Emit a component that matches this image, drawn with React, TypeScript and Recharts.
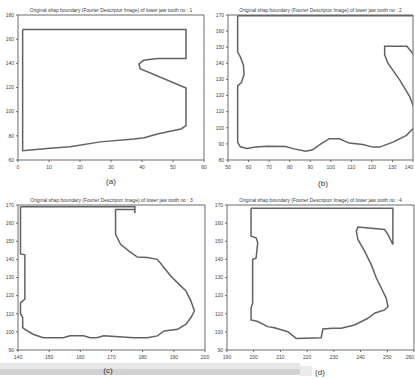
import React from "react";
import { LineChart, Line, XAxis, YAxis } from "recharts";

// Boundary points (x, y in axis units)
const toothA_x = [1.5, 54.2, 54.2, 45, 40.5, 39, 39.4, 54.2, 54.2, 52.6, 48.3, 45, 40.7, 37.4, 26.6, 16.8, 10.3, 1.5, 1.5];
const toothA_y = [168, 168, 144, 144, 142.5, 139.5, 135.5, 119.5, 88.5, 85.7, 83.4, 81.5, 78.5, 77.4, 75, 71, 69.7, 67.7, 168];

const toothB_x = [54.7, 54.7, 56, 57.5, 57.8, 56.5, 54.7, 54.7, 56, 59.3, 63.4, 69.1, 78, 82.1, 87.8, 91.1, 95.2, 99.3, 104.2, 109, 115.6, 120.5, 123.7, 130.3, 136.8, 140, 142, 141, 138.4, 133.5, 127.8, 126.2, 126.2, 137, 140, 142, 142, 54.7];
const toothB_y = [169.5, 147, 144, 139, 133, 128, 126, 91, 88.2, 87.1, 88, 88.6, 88.4, 86.9, 85.4, 86.3, 90, 93.2, 93.2, 90.5, 89.6, 88, 88, 91.1, 95.3, 99.4, 105, 111, 119.3, 129.7, 140.1, 145.4, 150.6, 150.6, 146, 150, 169.5, 169.5];

const toothC_x = [140.8, 177.5, 177.5, 177.5, 171.3, 171.3, 172.9, 175.6, 178.3, 181.5, 184.7, 186.9, 189, 191.7, 193.9, 195.5, 196.6, 195.5, 193.9, 191.2, 186.9, 184.7, 181.5, 177.2, 167.5, 165.3, 163.2, 161, 156.7, 154.5, 148.1, 144.8, 142.2, 141.5, 141.5, 140.8, 140.8, 142.2, 142.2, 140.8, 140.8];
const toothC_y = [169, 169, 165.5, 167.5, 167.5, 153.8, 148.3, 144.6, 141.3, 141, 140, 135.4, 130.8, 126.2, 122.6, 117, 111.5, 107.9, 104.2, 101.4, 100.5, 97.8, 96.8, 96.8, 97.8, 96.8, 96.8, 97.8, 97.8, 96.8, 96.8, 98.7, 101.4, 102.4, 108, 110, 116, 118, 142.5, 143, 169];

const toothD_x = [199, 252.1, 252.1, 250.25, 249, 239, 238.4, 239, 241.5, 244, 245.9, 247.75, 249.6, 250.25, 249, 245.25, 242.75, 237.75, 232.75, 229.6, 225.9, 225.25, 215.9, 212.75, 207.75, 205.25, 201.5, 199, 199, 199.6, 199.6, 200.9, 201.5, 200.9, 199, 199];
const toothD_y = [168.2, 168.2, 148.2, 153.7, 156.5, 157.8, 155.6, 151, 144.5, 137.1, 129.7, 124.2, 118.6, 114, 112.1, 110.3, 107.5, 103.8, 102, 102, 101.6, 96.8, 96.4, 100.1, 102.3, 102.9, 105.7, 106.6, 113.1, 115.8, 139.9, 140.8, 149.1, 151.9, 152.8, 168.2];

// Axis ticks
const ticksAX = [0, 10, 20, 30, 40, 50, 60];
const ticksAY = [60, 80, 100, 120, 140, 160, 180];
const ticksBX = [50, 60, 70, 80, 90, 100, 110, 120, 130, 140];
const ticksBY = [80, 90, 100, 110, 120, 130, 140, 150, 160, 170];
const ticksCX = [140, 150, 160, 170, 180, 190, 200];
const ticksDX = [190, 200, 210, 220, 230, 240, 250, 260];
const ticksCDY = [90, 100, 110, 120, 130, 140, 150, 160, 170];

const titleText = "Original shap boundary (Fourier Descriptor Image) of lower jaw tooth no : ";

const zip = (xs: number[], ys: number[]) => xs.map((x, i) => ({ x, y: ys[i] }));

interface PanelProps {
  title: string;
  xs: number[];
  ys: number[];
  xTicks: number[];
  yTicks: number[];
  left: number;
  top: number;
  yAxisWidth: number;
  marginRight: number;
}

const AXIS = "#6a6a6a";
const LINE = "#626262";

// x tick label; on the right-hand panels the last one is pulled left so it stays on the page
const XTick = (props: any) => {
  const { x, y, payload, index, visibleTicksCount, pullLast } = props;
  const last = index === visibleTicksCount - 1;
  return (
    <text
      x={x}
      y={y + 5}
      fontSize={5}
      fill="#444"
      textAnchor={last && pullLast ? "end" : "middle"}
    >
      {payload.value}
    </text>
  );
};

const ShapePanel: React.FC<PanelProps> = ({ title, xs, ys, xTicks, yTicks, left, top, yAxisWidth, marginRight }) => {
  const xDomain = [xTicks[0], xTicks[xTicks.length - 1]];
  const yDomain = [yTicks[0], yTicks[yTicks.length - 1]];
  return (
    <div style={{ position: "absolute", left, top }}>
      <LineChart
        width={210}
        height={185}
        data={zip(xs, ys)}
        margin={{ top: 15, right: marginRight, left: 0, bottom: 0 }}
      >
        <XAxis
          type="number"
          dataKey="x"
          domain={xDomain}
          ticks={xTicks}
          interval={0}
          allowDataOverflow
          height={25}
          tickSize={2}
          tick={<XTick pullLast={left > 100} />}
          stroke={AXIS}
        />
        <XAxis
          xAxisId="top"
          orientation="top"
          type="number"
          dataKey="x"
          domain={xDomain}
          ticks={xTicks}
          interval={0}
          allowDataOverflow
          mirror
          height={1}
          tickSize={2}
          tick={false}
          stroke={AXIS}
          label={{ value: title, position: "top", offset: 3, fontSize: 4.9, fill: "#3a3a3a" }}
        />
        <YAxis
          type="number"
          domain={yDomain}
          ticks={yTicks}
          interval={0}
          allowDataOverflow
          width={yAxisWidth}
          tickSize={2}
          tick={{ fontSize: 5, fill: "#444" }}
          stroke={AXIS}
        />
        <YAxis
          yAxisId="right"
          orientation="right"
          type="number"
          domain={yDomain}
          ticks={yTicks}
          interval={0}
          allowDataOverflow
          mirror
          width={1}
          tickSize={2}
          tick={false}
          stroke={AXIS}
        />
        <Line
          type="linear"
          dataKey="y"
          stroke={LINE}
          strokeWidth={1.5}
          dot={false}
          isAnimationActive={false}
        />
        {/* invisible twin so the top / right frame axes get drawn */}
        <Line
          xAxisId="top"
          yAxisId="right"
          type="linear"
          dataKey="y"
          stroke="none"
          dot={false}
          activeDot={false}
          isAnimationActive={false}
        />
      </LineChart>
    </div>
  );
};

const caption = (text: string, x: number, y: number) => (
  <div
    style={{
      position: "absolute",
      left: x - 10,
      top: y - 6,
      width: 20,
      textAlign: "center",
      fontSize: 8,
      color: "#333",
      fontFamily: "'Liberation Sans', Arial, sans-serif",
    }}
  >
    {text}
  </div>
);

export default function App() {
  return (
    <div
      style={{
        position: "absolute",
        left: 0,
        top: 0,
        width: 415,
        height: 379,
        overflow: "hidden",
        background: "#fff",
        fontFamily: "'Liberation Sans', Arial, sans-serif",
      }}
    >
      {/* scanned page band at the bottom */}
      <div style={{ position: "absolute", left: 0, top: 363, width: 300, height: 6, background: "#e6e6e6" }} />
      <div style={{ position: "absolute", left: 0, top: 369, width: 300, height: 6, background: "#d2d2d2" }} />
      <div style={{ position: "absolute", left: 300, top: 366, width: 12, height: 10, background: "#ececec" }} />

      <ShapePanel title={titleText + "1"} xs={toothA_x} ys={toothA_y} xTicks={ticksAX} yTicks={ticksAY} left={0} top={0} yAxisWidth={18} marginRight={6} />
      <ShapePanel title={titleText + "2"} xs={toothB_x} ys={toothB_y} xTicks={ticksBX} yTicks={ticksBY} left={205} top={0} yAxisWidth={23} marginRight={2} />
      <ShapePanel title={titleText + "3"} xs={toothC_x} ys={toothC_y} xTicks={ticksCX} yTicks={ticksCDY} left={0} top={190} yAxisWidth={18} marginRight={5} />
      <ShapePanel title={titleText + "4"} xs={toothD_x} ys={toothD_y} xTicks={ticksDX} yTicks={ticksCDY} left={205} top={190} yAxisWidth={22} marginRight={1} />

      {caption("(a)", 111, 183)}
      {caption("(b)", 323, 185)}
      {caption("(c)", 108, 372)}
      {caption("(d)", 320, 374)}
    </div>
  );
}
